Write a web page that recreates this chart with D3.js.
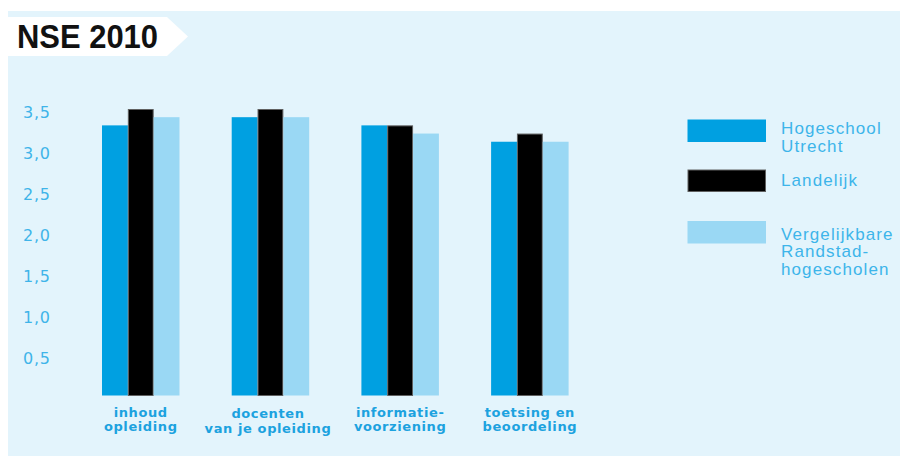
<!DOCTYPE html>
<html><head><meta charset="utf-8">
<script src="https://cdn.jsdelivr.net/npm/d3@7"></script>
<style>html,body{margin:0;padding:0;background:#fff;}svg{display:block;}</style>
</head><body>
<script>
const categories = [["inhoud","opleiding"],["docenten","van je opleiding"],["informatie-","voorziening"],["toetsing en","beoordeling"]];
const seriesNames = [["Hogeschool","Utrecht"],["Landelijk"],["Vergelijkbare","Randstad-","hogescholen"]];
const hogeschoolUtrecht = [3.3, 3.4, 3.3, 3.1];
const landelijk = [3.5, 3.5, 3.3, 3.2];
const randstad = [3.4, 3.4, 3.2, 3.1];
const yTicks = [0.5, 1.0, 1.5, 2.0, 2.5, 3.0, 3.5];
const colors = ["#00a0e1", "#000000", "#9ad8f4"];

const W = 905, H = 456;
const svg = d3.select("body").append("svg").attr("width", W).attr("height", H);

svg.append("rect").attr("x", 8).attr("y", 11).attr("width", 892).attr("height", H - 11).attr("fill", "#e3f4fc");

// title banner
svg.append("path").attr("d", "M0,17 L167,17 L188,36.5 L167,56 L0,56 Z").attr("fill", "#ffffff");
svg.append("text").attr("x", 17).attr("y", 48.3).text("NSE 2010")
  .attr("font-family", "Liberation Sans, Arial, sans-serif").attr("font-weight", "bold")
  .attr("font-size", 34).attr("textLength", 141).attr("lengthAdjust", "spacingAndGlyphs").attr("fill", "#111");

const x0 = d3.scaleBand().domain(d3.range(categories.length)).range([102, 568.6]).paddingInner(0.4025).paddingOuter(0);
const x1 = d3.scaleBand().domain([0,1,2]).range([0, x0.bandwidth()]);
const y = d3.scaleLinear().domain([0, 3.5]).range([395.5, 109]);

// y tick labels
svg.append("g").selectAll("text").data(yTicks).join("text")
  .attr("x", 23).attr("y", d => y(d) + 3.6).attr("dominant-baseline", "central")
  .attr("font-family", "DejaVu Sans, sans-serif").attr("font-size", 16).attr("letter-spacing", 0.8)
  .attr("fill", "#3fb4e9").text(d => d.toFixed(1).replace(".", ","));

const series = [hogeschoolUtrecht, landelijk, randstad];
const g = svg.append("g");
series.forEach((vals, si) => {
  g.selectAll(".s" + si).data(vals).join("rect")
    .attr("x", (d, i) => x0(i) + x1(si) + (si === 1 ? 0.5 : 0))
    .attr("y", d => y(d) + (si === 1 ? 0.5 : 0))
    .attr("width", x1.bandwidth() - (si === 1 ? 1 : 0))
    .attr("height", d => y(0) - y(d) - (si === 1 ? 0.5 : 0))
    .attr("fill", colors[si])
    .attr("stroke", si === 1 ? "#606060" : "none").attr("stroke-width", 1);
});

// category labels
const cl = svg.append("g");
categories.forEach((lines, i) => {
  const t = cl.append("text").attr("text-anchor", "middle")
    .attr("font-family", "DejaVu Sans, sans-serif").attr("font-weight", "bold")
    .attr("font-size", 13).attr("letter-spacing", 0.6).attr("fill", "#1ca2df");
  lines.forEach((l, j) => {
    t.append("tspan").attr("x", x0(i) + x0.bandwidth() / 2 + (i === 1 ? -2.5 : 0))
      .attr("y", 416.5 + j * 14.5 + (i === 1 ? 1.5 : 0)).text(l);
  });
});

// legend
const legY = [119.5, 169.5, 221];
const lg = svg.append("g");
seriesNames.forEach((lines, si) => {
  lg.append("rect").attr("x", 687.5 + (si === 1 ? 0.5 : 0)).attr("y", legY[si] + (si === 1 ? 0.5 : 0))
    .attr("width", 78.5 - (si === 1 ? 1 : 0)).attr("height", 22.5 - (si === 1 ? 1 : 0))
    .attr("fill", colors[si]).attr("stroke", si === 1 ? "#606060" : "none");
  const t = lg.append("text").attr("font-family", "Liberation Sans, Arial, sans-serif")
    .attr("font-size", 17).attr("letter-spacing", 1.1).attr("fill", "#3db5ea");
  const base = [134.3, 186, 240][si];
  lines.forEach((l, j) => {
    t.append("tspan").attr("x", 781).attr("y", base + j * 17.4).text(l);
  });
});
</script>
</body></html>
